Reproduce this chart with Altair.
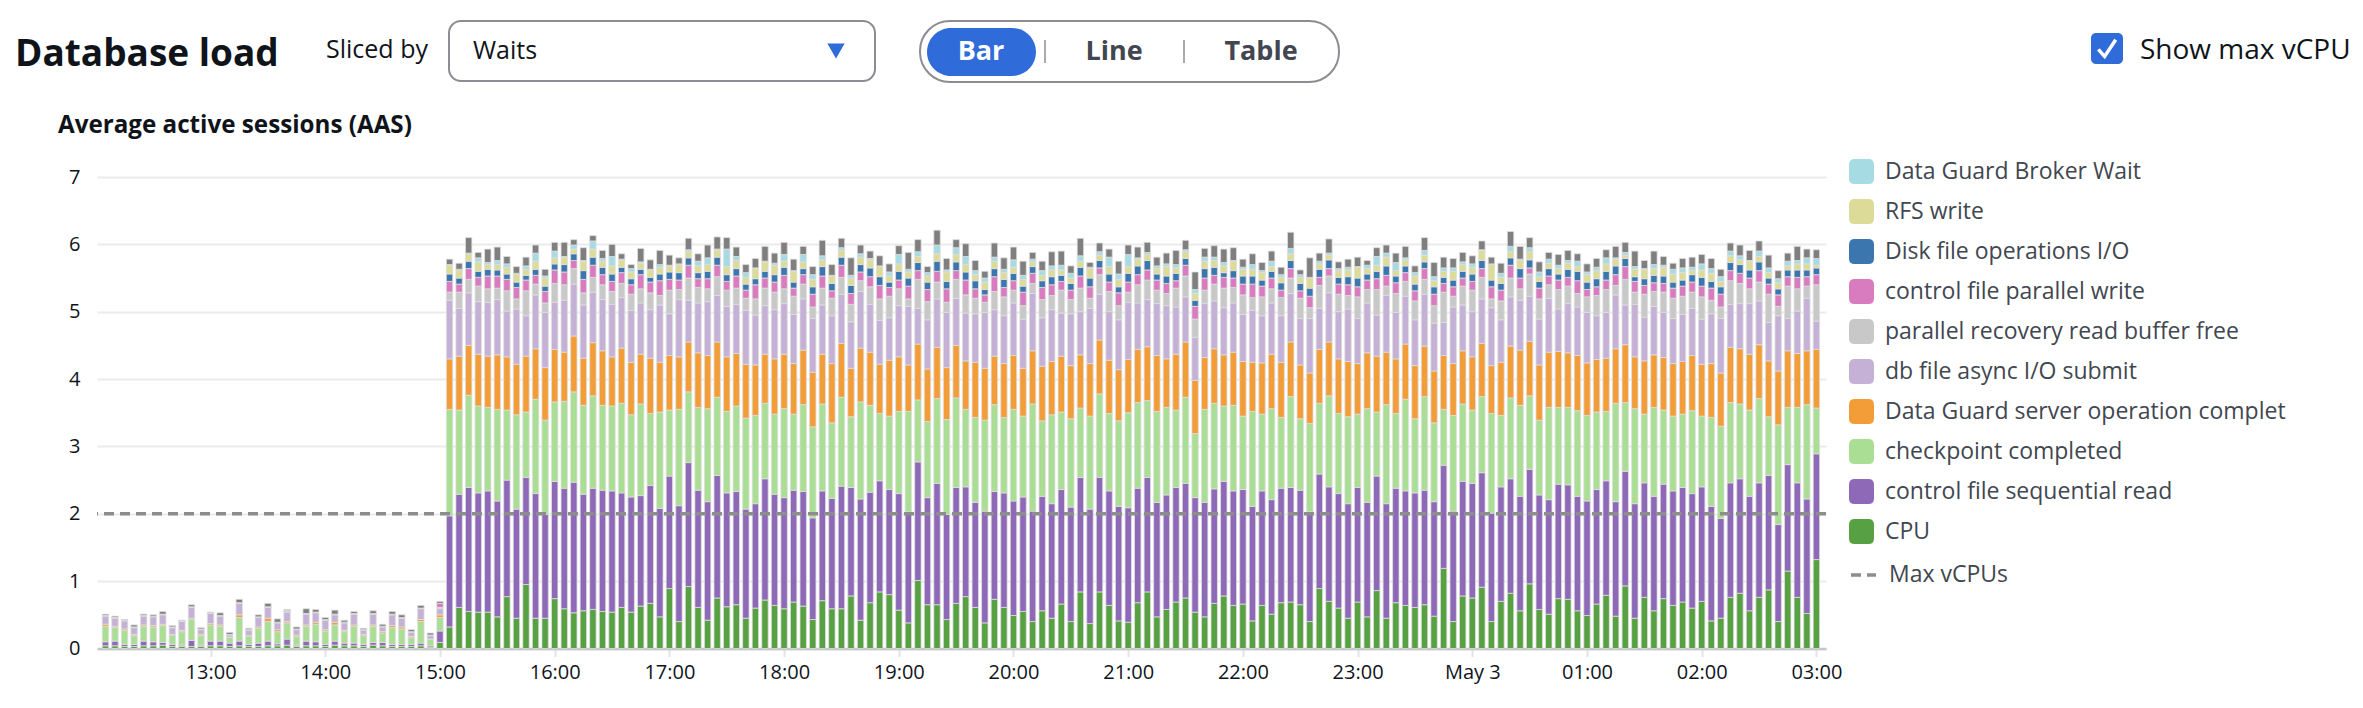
import altair as alt
import pandas as pd

FONT = "Open Sans"

# ---- categories (legend order, top -> bottom) ----
WAITS = ["Data Guard Broker Wait", "RFS write", "Disk file operations I/O",
         "control file parallel write", "parallel recovery read buffer free",
         "db file async I/O submit", "Data Guard server operation complet",
         "checkpoint completed", "control file sequential read", "CPU", "Other"]
COLORS = ["#a7dbe4", "#dcdc98", "#3c76ae", "#d97bbf", "#c8c8c8", "#c5b1d5",
          "#f39d38", "#aade94", "#8d69b8", "#57a142", "#7f7f7f"]

# 5-minute buckets, 12:05 (May 2) .. 03:00 (May 3)
START = "2024-05-02 12:05"
N_BARS = 180

# ---- series values (AAS), 36 low bars then 144 high bars ----
cpu = [.04,.04,.03,.03,.04,.04,.05,.03,.03,.03,.03,.04,.04,.03,.04,.03,.03,.04,.04,.05,.03,.04,.04,.03,.05,.04,.04,.03,.05,.04,.03,.03,.03,.04,.02,.09,
       .32,.61,.55,.54,.54,.47,.77,.45,.95,.45,.45,.74,.59,.53,.56,.58,.55,.54,.61,.54,.63,.67,.47,.89,.40,.92,.61,.42,.75,
       .62,.65,.45,.60,.72,.64,.59,.69,.63,.43,.71,.59,.59,.78,.42,.68,.84,.80,.57,.38,1.01,.65,.65,.43,.67,.77,.61,.38,.73,
       .61,.49,.55,.40,.56,.45,.66,.40,.84,.37,.84,.64,.41,.39,.68,.84,.47,.58,.69,.75,.54,.47,.67,.78,.64,.66,.41,.64,
       .51,.68,.69,.65,.40,.89,.70,.60,.45,.69,.47,.86,.45,.68,.64,.61,.65,.48,1.19,.40,.78,.75,.91,.40,.70,.82,.56,.96,
       .58,.51,.74,.73,.56,.49,.66,.79,.48,.93,.45,.76,.56,.74,.64,.69,.60,.70,.41,.45,.76,.82,.56,.76,.87,.40,1.15,.76,.52,1.32]
cf_seq_read = [.06,.07,.03,.03,.07,.06,.04,.03,.02,.09,.02,.07,.07,.05,.07,.03,.05,.07,.03,.09,.02,.07,.06,.03,.06,.04,.04,.03,.04,.05,.03,.03,.03,.04,.02,.17,
       1.65,1.68,1.84,1.77,1.80,1.72,1.73,1.62,1.59,1.85,1.54,1.74,1.79,1.94,1.73,1.80,1.80,1.80,1.70,1.71,1.64,1.75,1.61,1.67,1.72,1.84,1.74,1.76,1.82,
       1.69,1.68,1.62,1.55,1.80,1.65,1.65,1.66,1.70,1.51,1.63,1.64,1.82,1.61,1.80,1.64,1.65,1.56,1.73,1.65,1.76,1.59,1.80,1.56,1.72,1.63,1.56,1.66,1.60,
       1.70,1.70,1.70,1.64,1.70,1.70,1.70,1.70,1.70,1.70,1.70,1.70,1.70,1.70,1.70,1.70,1.70,1.70,1.70,1.70,1.70,1.70,1.70,1.70,1.70,1.70,1.70,1.70,
       1.70,1.70,1.70,1.70,1.63,1.70,1.70,1.70,1.70,1.70,1.70,1.70,1.70,1.70,1.70,1.70,1.70,1.70,1.53,1.64,1.70,1.70,1.70,1.61,1.70,1.70,1.70,1.70,
       1.70,1.70,1.70,1.70,1.70,1.70,1.70,1.70,1.70,1.70,1.70,1.70,1.70,1.70,1.70,1.70,1.70,1.70,1.70,1.48,1.70,1.70,1.70,1.70,1.70,1.44,1.58,1.70,1.70,1.57]
checkpoint = [.23,.20,.21,.13,.22,.22,.25,.14,.20,.32,.14,.24,.22,.09,.35,.13,.22,.29,.18,.24,.13,.22,.26,.20,.24,.17,.25,.13,.24,.14,.25,.23,.10,.32,.10,.20,
       1.58,1.25,1.37,1.29,1.24,1.36,1.04,1.40,.97,1.40,1.40,1.18,1.29,1.34,1.32,1.37,1.26,1.26,1.33,1.22,1.36,1.07,1.43,.98,1.43,1.05,1.23,1.38,1.16,
       1.21,1.27,1.35,1.31,1.12,1.19,1.32,1.13,1.29,1.35,1.29,1.12,1.32,1.05,1.44,1.29,1.00,1.09,1.22,1.49,.92,1.13,1.26,1.41,1.33,1.15,1.26,1.35,1.29,
       1.12,1.36,1.20,1.59,1.12,1.32,1.15,1.31,1.03,1.38,1.24,1.15,1.27,1.41,1.27,1.14,1.35,1.30,1.15,1.28,.95,1.38,1.27,1.12,1.27,1.09,1.41,1.14,
       1.35,1.05,1.35,1.06,1.31,1.05,1.35,1.19,1.29,1.09,1.39,.95,1.47,1.11,1.36,1.10,1.39,1.17,.83,1.42,1.15,1.09,1.13,1.48,1.06,1.20,1.35,1.09,
       1.11,1.37,1.14,1.15,1.27,1.27,1.15,1.03,1.46,1.02,1.41,1.02,1.32,1.10,1.11,1.09,1.23,1.05,1.32,1.37,1.19,1.11,1.28,1.25,.87,1.48,.85,1.12,1.40,.68]
dg_server_op = [.03,.02,.02,.02,.02,.02,.02,.01,.02,.01,.02,.02,.02,0,.04,0,.02,.05,.03,.02,.02,.02,.03,.02,.04,.02,.02,.02,.02,.02,.03,.03,.02,.03,0,.04,
       .75,.80,.74,.77,.76,.81,.79,.75,.83,.75,.78,.78,.73,.83,.70,.79,.81,.73,.82,.78,.74,.82,.74,.81,.78,.74,.81,.79,.82,
       .81,.78,.80,.75,.73,.82,.81,.75,.81,.81,.74,.88,.80,.72,.80,.79,.73,.83,.81,.69,.83,.78,.76,.77,.78,.72,.82,.77,.72,
       .80,.80,.71,.79,.81,.79,.83,.79,.79,.78,.80,.79,.76,.79,.79,.80,.83,.72,.83,.82,.79,.77,.81,.76,.79,.81,.73,.76,
       .81,.82,.81,.80,.75,.80,.80,.81,.82,.75,.83,.83,.78,.81,.82,.79,.75,.77,.80,.77,.79,.79,.79,.71,.79,.77,.82,.81,
       .82,.82,.83,.81,.82,.78,.78,.79,.81,.86,.77,.79,.78,.78,.78,.78,.82,.77,.80,.79,.82,.82,.83,.80,.83,.80,.84,.80,.80,.87]
db_async_io = [.12,.12,.12,.10,.13,.13,.14,.10,.13,.16,.07,.15,.13,.03,.17,.08,.14,.16,.10,.14,.08,.16,.14,.14,.11,.11,.16,.06,.16,.07,.16,.13,.06,.16,.05,.09,
       .87,.71,.78,.78,.80,.82,.68,.82,.60,.80,.82,.70,.77,.77,.79,.75,.76,.78,.75,.77,.76,.72,.85,.62,.85,.62,.74,.80,.69,
       .75,.73,.80,.74,.72,.73,.75,.73,.76,.80,.73,.71,.73,.69,.84,.71,.65,.63,.76,.87,.53,.73,.72,.82,.70,.71,.72,.83,.69,
       .71,.78,.73,.85,.72,.77,.64,.77,.64,.82,.68,.72,.74,.85,.69,.70,.77,.79,.70,.67,.64,.80,.71,.70,.73,.70,.77,.70,
       .76,.69,.72,.69,.81,.61,.73,.70,.78,.67,.74,.61,.84,.69,.71,.68,.77,.71,.49,.84,.68,.67,.66,.86,.63,.73,.74,.67,
       .68,.80,.63,.73,.72,.75,.65,.68,.80,.59,.78,.65,.72,.67,.67,.70,.70,.67,.74,.81,.64,.67,.75,.65,.57,.82,.48,.63,.78,.42]
par_recovery = [.01,.01,.01,.01,.01,.01,.01,.01,.01,.01,.01,.01,.01,.01,.01,.01,.01,.01,.01,.01,.01,.01,.01,.01,.01,.01,.01,.01,.01,.01,.01,.01,.01,.01,.01,.02,
       .12,.24,.20,.23,.20,.17,.30,.15,.37,.16,.14,.28,.23,.23,.18,.22,.22,.19,.21,.24,.21,.25,.14,.35,.15,.33,.23,.19,.28,
       .24,.24,.18,.24,.26,.26,.22,.27,.22,.17,.25,.26,.25,.26,.16,.26,.32,.32,.25,.11,.43,.27,.25,.15,.28,.27,.23,.15,.27,
       .28,.19,.20,.15,.27,.21,.34,.21,.35,.15,.29,.30,.21,.15,.27,.29,.20,.18,.28,.31,.27,.20,.25,.29,.23,.29,.19,.28,
       .21,.27,.23,.30,.16,.34,.25,.26,.20,.32,.20,.38,.14,.28,.22,.28,.22,.26,.45,.16,.28,.32,.32,.13,.28,.28,.17,.33,
       .30,.20,.29,.26,.20,.23,.30,.34,.14,.38,.18,.34,.22,.30,.30,.27,.24,.33,.20,.17,.35,.30,.22,.28,.42,.14,.48,.33,.18,.54]
cf_par_write = [0,0,0,0,0,0,0,0,0,0,0,0,0,0,0,0,0,0,0,0,0,0,0,0,0,0,0,0,0,0,0,0,0,0,0,.06,
       .16,.12,.16,.13,.19,.18,.17,.17,.16,.13,.17,.20,.19,.12,.20,.18,.15,.15,.16,.14,.21,.16,.22,.16,.14,.19,.13,.15,.17,
       .13,.18,.12,.21,.15,.15,.20,.12,.14,.19,.18,.11,.18,.16,.13,.15,.20,.13,.13,.19,.13,.18,.16,.20,.13,.22,.14,.11,.22,
       .14,.14,.20,.15,.18,.16,.13,.14,.18,.17,.10,.14,.19,.15,.15,.15,.15,.15,.11,.16,.19,.18,.13,.16,.14,.16,.20,.16,
       .16,.11,.14,.11,.17,.12,.11,.15,.16,.15,.14,.16,.16,.16,.13,.15,.16,.17,.13,.14,.12,.13,.13,.18,.16,.19,.16,.09,
       .16,.13,.14,.13,.19,.11,.13,.14,.16,.19,.16,.13,.13,.13,.15,.15,.15,.16,.18,.19,.15,.15,.16,.17,.15,.17,.14,.17,.14,.15]
disk_file_io = [0,0,0,0,0,0,0,0,0,0,0,0,0,0,0,0,0,0,0,.02,0,0,0,0,0,0,0,0,0,0,0,0,0,0,0,0,
       .11,.09,.11,.09,.10,.09,.08,.08,.07,.09,.08,.09,.11,.10,.13,.12,.11,.11,.08,.09,.08,.07,.10,.11,.11,.11,.09,.11,.12,
       .10,.11,.09,.09,.10,.11,.12,.09,.09,.11,.14,.11,.12,.12,.11,.13,.13,.08,.13,.12,.12,.11,.15,.11,.13,.12,.12,.08,.12,
       .12,.11,.09,.10,.10,.12,.09,.10,.13,.13,.11,.12,.09,.13,.13,.14,.09,.11,.11,.10,.09,.14,.12,.07,.11,.12,.12,.09,
       .10,.11,.12,.11,.12,.12,.13,.10,.12,.13,.09,.11,.14,.10,.10,.10,.10,.11,.09,.10,.10,.11,.12,.10,.10,.11,.14,.12,
       .10,.11,.09,.12,.14,.11,.12,.13,.13,.12,.07,.10,.11,.11,.09,.09,.11,.13,.10,.11,.12,.13,.12,.13,.09,.09,.10,.11,.10,.10]
rfs_write = [0]*36 + [
       .13,.12,.11,.14,.07,.08,.10,.12,.09,.12,.12,.09,.11,.07,.14,.12,.09,.12,.11,.10,.09,.11,.10,.09,.12,.09,.10,.10,.11,
       .12,.12,.10,.15,.14,.14,.09,.16,.10,.11,.10,.11,.10,.11,.11,.12,.15,.09,.11,.09,.09,.09,.11,.14,.11,.11,.09,.11,.11,
       .10,.09,.10,.07,.08,.10,.08,.08,.09,.15,.08,.11,.11,.10,.10,.09,.08,.14,.08,.10,.10,.11,.10,.10,.14,.10,.10,.11,
       .07,.08,.10,.09,.15,.08,.07,.10,.10,.16,.08,.09,.13,.08,.09,.12,.10,.09,.09,.13,.10,.10,.15,.23,.09,.09,.13,.12,
       .07,.08,.08,.09,.07,.11,.12,.11,.10,.05,.11,.14,.10,.13,.12,.11,.06,.11,.12,.08,.10,.07,.13,.08,.08,.09,.06,.09,.09,.04]
dg_broker = [0]*36 + [
       .01,.01,.01,.06,.03,.06,.05,.01,.05,.12,.03,.10,.01,.06,.01,.12,.04,.14,.01,.05,.02,.01,.04,.01,.01,.03,.07,.10,.01,
       .26,.06,.07,.01,.01,.03,.10,.01,.11,.07,.06,.01,.04,.04,.05,.02,.01,.06,.14,.04,.07,.05,.13,.03,.10,.12,.06,.06,.06,
       .05,.11,.06,.04,.07,.06,.07,.07,.08,.01,.05,.14,.08,.18,.02,.03,.04,.04,.05,.03,.06,.06,.05,.05,.01,.03,.07,.03,
       .08,.04,.08,.04,.01,.04,.03,.03,.04,.01,.05,.13,.06,.12,.03,.05,.07,.06,.05,.05,.04,.05,.01,.01,.06,.08,.01,.06,
       .07,.06,.05,.04,.08,.04,.05,.09,.02,.04,.04,.01,.06,.03,.07,.07,.05,.09,.07,.07,.07,.06,.01,.08,.07,.06,.07,.05,.09,.10]
other = [.02,.02,.01,.03,.02,.02,.04,.02,.01,.03,.02,.01,.04,.03,.05,.02,.03,.05,.05,.01,.03,.07,.04,.03,.06,.03,.03,.02,.04,.03,.04,.04,.03,.04,.03,.03,
       .08,.09,.23,.08,.20,.20,.11,.10,.13,.12,.10,.13,.21,.08,.19,.08,.12,.18,.08,.06,.20,.14,.21,.15,.09,.17,.11,.19,.18,
       .17,.14,.12,.14,.22,.15,.18,.17,.12,.12,.23,.16,.14,.26,.13,.11,.15,.12,.13,.25,.18,.09,.22,.17,.12,.19,.15,.10,.21,
       .17,.19,.21,.10,.14,.21,.21,.11,.26,.07,.13,.12,.19,.14,.16,.15,.13,.16,.21,.14,.26,.13,.17,.20,.19,.12,.16,.12,
       .15,.11,.24,.07,.29,.12,.21,.10,.12,.14,.07,.13,.12,.14,.17,.10,.19,.21,.16,.14,.14,.12,.13,.10,.15,.22,.19,.15,
       .15,.10,.16,.15,.11,.12,.13,.12,.17,.15,.23,.12,.20,.13,.09,.14,.15,.14,.15,.11,.12,.16,.15,.15,.19,.12,.12,.21,.13,.13]

MAX_VCPU = 2

# bottom -> top stacking
STACK = [("CPU", cpu), ("control file sequential read", cf_seq_read),
         ("checkpoint completed", checkpoint),
         ("Data Guard server operation complet", dg_server_op),
         ("db file async I/O submit", db_async_io),
         ("parallel recovery read buffer free", par_recovery),
         ("control file parallel write", cf_par_write),
         ("Disk file operations I/O", disk_file_io), ("RFS write", rfs_write),
         ("Data Guard Broker Wait", dg_broker), ("Other", other)]

times = pd.date_range(START, periods=N_BARS, freq="5min")
rows = []
for i, (name, vals) in enumerate(STACK):
    assert len(vals) == N_BARS, (name, len(vals))
    for t, v in zip(times, vals):
        rows.append({"time": t, "wait": name, "aas": v, "ord": i})
df = pd.DataFrame(rows)

ROUNDED = ("M -1 -0.55 Q -1 -1 -0.55 -1 L 0.55 -1 Q 1 -1 1 -0.55 L 1 0.55 "
           "Q 1 1 0.55 1 L -0.55 1 Q -1 1 -1 0.55 Z")

hour_ticks = [alt.DateTime(year=2024, month=5, date=2, hours=h) for h in range(13, 24)] + \
             [alt.DateTime(year=2024, month=5, date=3, hours=h) for h in range(0, 4)]

bars = alt.Chart(df).mark_bar(width=6.4, stroke="#dedede", strokeWidth=0.8).encode(
    x=alt.X("time:T",
            scale=alt.Scale(domain=[alt.DateTime(year=2024, month=5, date=2, hours=12, minutes=3, seconds=12),
                                    alt.DateTime(year=2024, month=5, date=3, hours=3, minutes=2, seconds=24)]),
            axis=alt.Axis(values=hour_ticks, title=None, grid=False,
                          labelExpr="hours(datum.value) == 0 ? 'May 3' : timeFormat(datum.value, '%H:%M')",
                          domainColor="#c6c6cd", domainWidth=2.5, tickColor="#e3e3e3",
                          tickWidth=2, tickSize=8, labelFont=FONT, labelFontSize=20,
                          labelColor="#0f141a", labelPadding=6)),
    y=alt.Y("aas:Q", stack="zero", scale=alt.Scale(domain=[0, 7], nice=False),
            axis=alt.Axis(values=list(range(8)), format="d", title=None, domain=False, ticks=False,
                          gridColor="#e9ebed", gridWidth=2, labelFont=FONT,
                          labelFontSize=20, labelPadding=17, labelColor="#0f141a")),
    color=alt.Color("wait:N", scale=alt.Scale(domain=WAITS, range=COLORS),
                    legend=alt.Legend(orient="none", legendX=1752, legendY=-18, title=None,
                                      values=WAITS[:10], symbolType=ROUNDED, symbolSize=625,
                                      symbolStrokeWidth=0, labelFont=FONT, labelFontSize=23,
                                      labelColor="#414750", labelOffset=11, rowPadding=15,
                                      padding=0, labelLimit=600)),
    order=alt.Order("ord:Q", sort="ascending"),
)

vcpu_df = pd.DataFrame({"value": [MAX_VCPU], "label": ["Max vCPUs"]})
rule = alt.Chart(vcpu_df).mark_rule(strokeWidth=3.5, color="#8d8d8d").encode(
    y="value:Q",
    strokeDash=alt.StrokeDash("label:N", scale=alt.Scale(domain=["Max vCPUs"], range=[[10, 6]]),
                              legend=alt.Legend(orient="none", legendX=1752, legendY=383.5,
                                                title=None, symbolType="stroke", symbolSize=625,
                                                symbolStrokeWidth=3.5, symbolStrokeColor="#8d8d8d",
                                                labelFont=FONT, labelFontSize=23,
                                                labelColor="#414750", labelOffset=11, padding=0)),
)

dummy = pd.DataFrame({"a": [0]})


def txt(text, x, y, size, weight="normal", color="#0f141a", align="left"):
    return alt.Chart(dummy).mark_text(text=text, align=align, baseline="middle", fontSize=size,
                                      fontWeight=weight, font=FONT, color=color).encode(
        x=alt.value(x), y=alt.value(y))


def box(x1, x2, y1, y2, r, fill="white", stroke=None, sw=2):
    kw = dict(cornerRadius=r, fill=fill, strokeWidth=sw)
    if stroke:
        kw["stroke"] = stroke
    return alt.Chart(dummy).mark_rect(**kw).encode(
        x=alt.value(x1), x2=alt.value(x2), y=alt.value(y1), y2=alt.value(y2))


BLUE = "#2f6bd9"
deco = [
    txt("Database load", -82, -122, 37, "bold"),
    txt("Sliced by", 229, -127, 25),
    box(352, 778, -156, -96, 12, stroke="#8c8c94"),
    txt("Waits", 376, -126, 25),
    alt.Chart(dummy).mark_point(shape="triangle-down", filled=True, size=300, color=BLUE,
                                opacity=1).encode(x=alt.value(739), y=alt.value(-126)),
    box(823, 1242, -156, -95, 30, stroke="#8c8c94"),
    box(830, 939, -149, -101, 24, fill=BLUE),
    txt("Bar", 884, -125, 27, "bold", "white", "center"),
    alt.Chart(dummy).mark_rule(color="#8c8c94", strokeWidth=1.5).encode(
        x=alt.value(948), y=alt.value(-137), y2=alt.value(-114)),
    txt("Line", 1017, -125, 27, "bold", "#424650", "center"),
    alt.Chart(dummy).mark_rule(color="#8c8c94", strokeWidth=1.5).encode(
        x=alt.value(1087), y=alt.value(-137), y2=alt.value(-114)),
    txt("Table", 1164, -125, 27, "bold", "#424650", "center"),
    box(1994, 2026, -144, -113, 5, fill=BLUE),
    alt.Chart(dummy).mark_point(shape="M -0.55 0.05 L -0.15 0.5 L 0.55 -0.55", filled=False,
                                size=1000, stroke="white", strokeWidth=3.5, opacity=1).encode(
        x=alt.value(2010), y=alt.value(-128.5)),
    txt("Show max vCPU", 2043, -126, 28),
    txt("Average active sessions (AAS)", -39, -51, 24.2, "bold"),
]

chart = alt.layer(bars, rule, *deco).properties(
    width=1729, height=471.5,
    autosize=alt.AutoSizeParams(type="none"),
    padding={"left": 97, "top": 177, "right": 537, "bottom": 59.5},
    background="white",
).configure_view(stroke=None).resolve_legend(color="independent", strokeDash="independent")

chart.save("out.html", embed_options={"renderer": "svg", "actions": False})
